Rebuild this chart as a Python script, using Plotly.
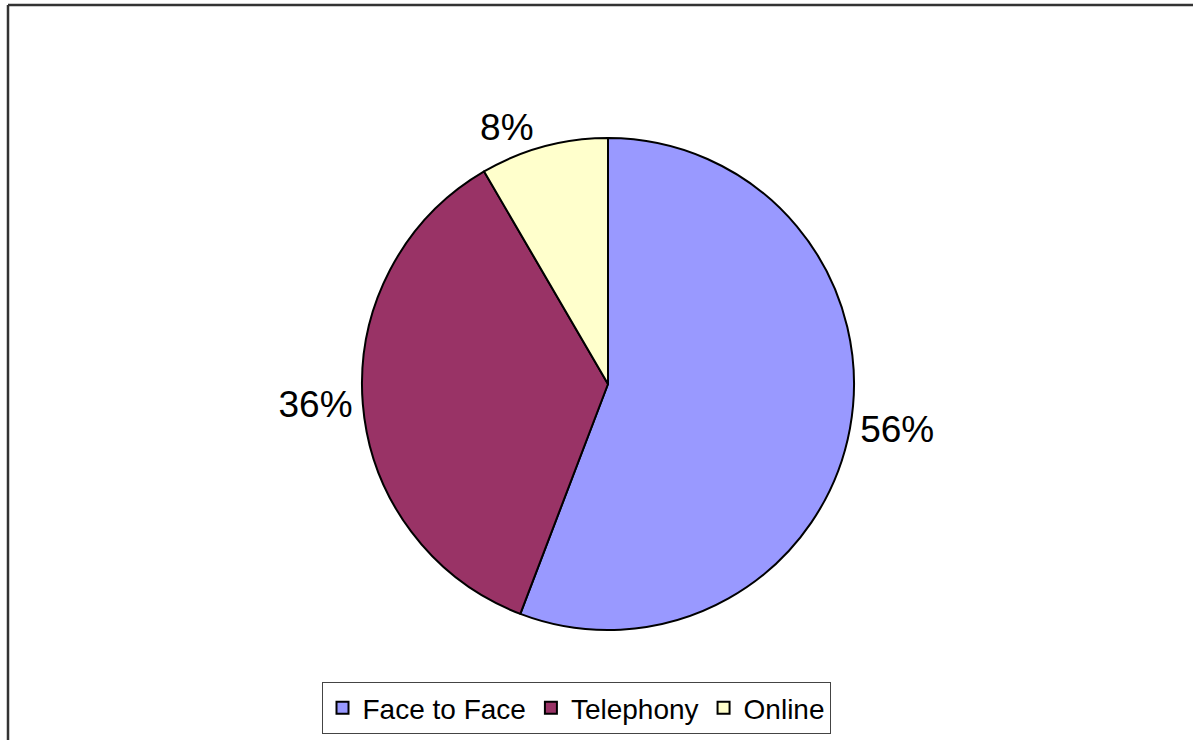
import plotly.graph_objects as go

# channel share
labels = ["Face to Face", "Telephony", "Online"]
values = [55.8, 35.8, 8.4]
colors = ["#9999FF", "#993366", "#FFFFCC"]

W, H = 1193, 740
FONT = "Liberation Sans, Arial, sans-serif"

fig = go.Figure(go.Pie(
    labels=labels,
    values=values,
    sort=False,
    direction="clockwise",
    rotation=0,
    marker=dict(colors=colors, line=dict(color="black", width=2)),
    textinfo="percent",
    texttemplate="%{percent:.0%}",
    textposition="outside",
    outsidetextfont=dict(family=FONT, size=37, color="black"),
    domain=dict(x=[362 / W, 854 / W], y=[1 - 630 / H, 1 - 138 / H]),
    hoverinfo="label+percent",
))

# chart area frame (only top and left edges visible)
fig.add_shape(type="line", xref="paper", yref="paper",
              x0=8 / W, y0=0, x1=8 / W, y1=1 - 5 / H,
              line=dict(color="#333333", width=2.5))
fig.add_shape(type="line", xref="paper", yref="paper",
              x0=8 / W, y0=1 - 5 / H, x1=1, y1=1 - 5 / H,
              line=dict(color="#333333", width=2.5))

fig.update_layout(
    width=W, height=H,
    margin=dict(l=0, r=0, t=0, b=0),
    paper_bgcolor="white",
    plot_bgcolor="white",
    showlegend=True,
    legend=dict(
        orientation="h",
        x=576 / W, xanchor="center",
        y=6 / H, yanchor="bottom",
        font=dict(family=FONT, size=28, color="black"),
        bordercolor="#444444", borderwidth=1,
        bgcolor="white",
    ),
)

# drop the default page margin so the figure sits at the window origin
fig.write_html("out.html", config={"displayModeBar": False},
               post_script="document.body.style.margin='0';")
